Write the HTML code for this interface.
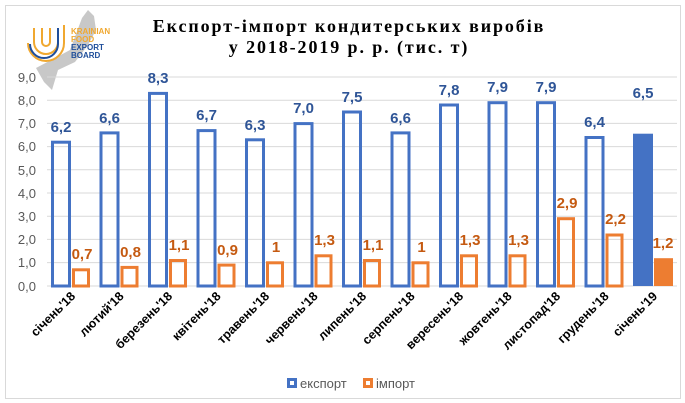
<!DOCTYPE html>
<html><head><meta charset="utf-8"><style>
html,body{margin:0;padding:0;background:#fff;}
svg{display:block;font-family:"Liberation Sans",sans-serif;}
.yl{font-size:13px;fill:#595959;text-anchor:end;}
.el{font-size:15px;font-weight:bold;fill:#2f5597;text-anchor:middle;}
.il{font-size:15px;font-weight:bold;fill:#c55a11;text-anchor:middle;}
.xl{font-size:12.5px;font-weight:bold;fill:#000;text-anchor:end;}
.e{fill:none;stroke:#4472c4;stroke-width:3;}
.i{fill:none;stroke:#ed7d31;stroke-width:3;}
</style></head><body>
<svg width="685" height="403" viewBox="0 0 685 403">
<rect x="5.5" y="5.5" width="675" height="393" fill="#fff" stroke="#d9d9d9"/>
<!-- logo -->
<path d="M82 18 L88 10 L94 16 L96 30 L88 45 L75 62 L58 70 L52 90 L44 82 L36 68 L55 58 L70 50 Z" fill="#c8c8c8"/>
<path d="M34 28 v14 a12 12 0 0 0 24 0 v-12 M42 28 v14 a4 4 0 0 0 8 0 v-14 M64 25 v18 a18 18 0 0 1 -36 0" fill="none" stroke="#f0a830" stroke-width="2"/>
<path d="M58 28 v16 a14 14 0 0 1 -28 0" fill="none" stroke="#1f4e9a" stroke-width="2"/>
<text x="71" y="34" font-size="8" font-weight="bold" fill="#f0a830">KRAINIAN</text>
<text x="71" y="42" font-size="8" font-weight="bold" fill="#f0a830">FOOD</text>
<text x="71" y="50" font-size="8" font-weight="bold" fill="#1f4e9a">EXPORT</text>
<text x="71" y="58" font-size="8" font-weight="bold" fill="#1f4e9a">BOARD</text>
<!-- title -->
<text x="349" y="32" text-anchor="middle" font-family="'Liberation Serif',serif" font-weight="bold" font-size="18" letter-spacing="1.9" fill="#000">Експорт-імпорт кондитерських виробів</text>
<text x="349" y="53" text-anchor="middle" font-family="'Liberation Serif',serif" font-weight="bold" font-size="18" letter-spacing="1.9" fill="#000">у 2018-2019 р. р. (тис. т)</text>
<!-- grid -->
<g stroke="#d9d9d9" stroke-width="1">
<line x1="47" x2="677" y1="77" y2="77"/><line x1="47" x2="677" y1="100.2" y2="100.2"/><line x1="47" x2="677" y1="123.4" y2="123.4"/><line x1="47" x2="677" y1="146.6" y2="146.6"/><line x1="47" x2="677" y1="169.8" y2="169.8"/><line x1="47" x2="677" y1="193" y2="193"/><line x1="47" x2="677" y1="216.2" y2="216.2"/><line x1="47" x2="677" y1="239.4" y2="239.4"/><line x1="47" x2="677" y1="262.6" y2="262.6"/><line x1="47" x2="677" y1="286" y2="286"/>
</g>
<g class="yl">
<text x="36" y="82">9,0</text><text x="36" y="105">8,0</text><text x="36" y="128">7,0</text><text x="36" y="151">6,0</text><text x="36" y="175">5,0</text><text x="36" y="198">4,0</text><text x="36" y="221">3,0</text><text x="36" y="244">2,0</text><text x="36" y="267">1,0</text><text x="36" y="291">0,0</text>
</g>
<!-- export bars -->
<rect class="e" x="52.5" y="142.2" width="17" height="143.8"/>
<rect class="e" x="101" y="132.9" width="17" height="153.1"/>
<rect class="e" x="149.5" y="93.4" width="17" height="192.6"/>
<rect class="e" x="198" y="130.6" width="17" height="155.4"/>
<rect class="e" x="246.5" y="139.8" width="17" height="146.2"/>
<rect class="e" x="295" y="123.6" width="17" height="162.4"/>
<rect class="e" x="343.5" y="112" width="17" height="174"/>
<rect class="e" x="392" y="132.9" width="17" height="153.1"/>
<rect class="e" x="440.5" y="105" width="17" height="181"/>
<rect class="e" x="489" y="102.7" width="17" height="183.3"/>
<rect class="e" x="537.5" y="102.7" width="17" height="183.3"/>
<rect class="e" x="586" y="137.5" width="17" height="148.5"/>
<rect x="633" y="133.7" width="20" height="152.3" fill="#4472c4"/>
<!-- import bars -->
<rect class="i" x="73.5" y="269.8" width="15" height="16.2"/>
<rect class="i" x="122" y="267.4" width="15" height="18.6"/>
<rect class="i" x="170.5" y="260.5" width="15" height="25.5"/>
<rect class="i" x="219" y="265.1" width="15" height="20.9"/>
<rect class="i" x="267.5" y="262.8" width="15" height="23.2"/>
<rect class="i" x="316" y="255.8" width="15" height="30.2"/>
<rect class="i" x="364.5" y="260.5" width="15" height="25.5"/>
<rect class="i" x="413" y="262.8" width="15" height="23.2"/>
<rect class="i" x="461.5" y="255.8" width="15" height="30.2"/>
<rect class="i" x="510" y="255.8" width="15" height="30.2"/>
<rect class="i" x="558.5" y="218.7" width="15" height="67.3"/>
<rect class="i" x="607" y="235" width="15" height="51"/>
<rect x="654" y="258.2" width="19" height="27.8" fill="#ed7d31"/>
<!-- export labels -->
<g class="el">
<text x="61" y="132">6,2</text><text x="109.5" y="123">6,6</text><text x="158" y="83">8,3</text><text x="206.5" y="120">6,7</text><text x="255" y="130">6,3</text><text x="303.5" y="113">7,0</text><text x="352" y="102">7,5</text><text x="400.5" y="123">6,6</text><text x="449" y="95">7,8</text><text x="497.5" y="92">7,9</text><text x="546" y="92">7,9</text><text x="594.5" y="127">6,4</text><text x="643" y="98">6,5</text>
</g>
<g class="il">
<text x="82" y="259">0,7</text><text x="130.5" y="257">0,8</text><text x="179" y="250">1,1</text><text x="227.5" y="255">0,9</text><text x="276" y="252">1</text><text x="324.5" y="245">1,3</text><text x="373" y="250">1,1</text><text x="421.5" y="252">1</text><text x="470" y="245">1,3</text><text x="518.5" y="245">1,3</text><text x="567" y="208">2,9</text><text x="615.5" y="224">2,2</text><text x="663" y="248">1,2</text>
</g>
<!-- x labels -->
<g class="xl">
<text transform="translate(76,297) rotate(-45)">січень'18</text>
<text transform="translate(124.5,297) rotate(-45)">лютий'18</text>
<text transform="translate(173,297) rotate(-45)">березень'18</text>
<text transform="translate(221.5,297) rotate(-45)">квітень'18</text>
<text transform="translate(270,297) rotate(-45)">травень'18</text>
<text transform="translate(318.5,297) rotate(-45)">червень'18</text>
<text transform="translate(367,297) rotate(-45)">липень'18</text>
<text transform="translate(415.5,297) rotate(-45)">серпень'18</text>
<text transform="translate(464,297) rotate(-45)">вересень'18</text>
<text transform="translate(512.5,297) rotate(-45)">жовтень'18</text>
<text transform="translate(561,297) rotate(-45)">листопад'18</text>
<text transform="translate(609.5,297) rotate(-45)">грудень'18</text>
<text transform="translate(658,297) rotate(-45)">січень'19</text>
</g>
<!-- legend -->
<rect x="288.5" y="379.5" width="7" height="7" fill="none" stroke="#4472c4" stroke-width="3"/>
<text x="300" y="388" font-size="13" fill="#595959">експорт</text>
<rect x="364.5" y="379.5" width="7" height="7" fill="none" stroke="#ed7d31" stroke-width="3"/>
<text x="376" y="388" font-size="13" fill="#595959">імпорт</text>
</svg>
</body></html>
